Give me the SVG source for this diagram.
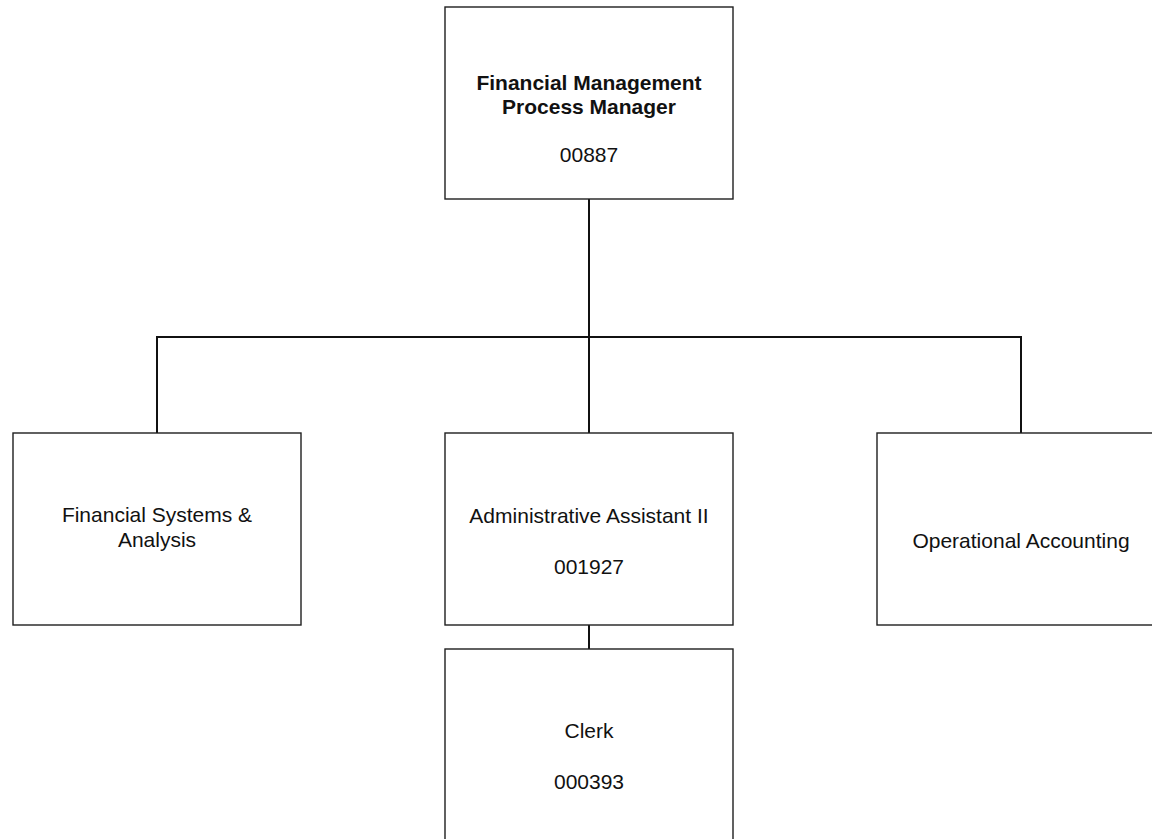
<svg xmlns="http://www.w3.org/2000/svg" width="1152" height="839" viewBox="0 0 1152 839">
  <style>
    .box { fill: #ffffff; stroke: #1f1f1f; stroke-width: 1.4; }
    .link { fill: none; stroke: #111111; stroke-width: 2; }
    text { font-family: "Liberation Sans", Arial, sans-serif; font-size: 21px; fill: #111111; text-anchor: middle; }
    .title { font-weight: bold; }
  </style>
  <rect width="1152" height="839" fill="#ffffff"/>

  <g id="connectors">
    <path class="link" d="M589 199 V337"/>
    <path class="link" d="M157 433 V337 H1021 V433"/>
    <path class="link" d="M589 337 V433"/>
    <path class="link" d="M589 625 V649"/>
  </g>

  <g id="node-manager">
    <rect class="box" x="445" y="7" width="288" height="192"/>
    <text class="title" x="589" y="90">Financial Management</text>
    <text class="title" x="589" y="114">Process Manager</text>
    <text x="589" y="162">00887</text>
  </g>

  <g id="node-systems">
    <rect class="box" x="13" y="433" width="288" height="192"/>
    <text x="157" y="522">Financial Systems &amp;</text>
    <text x="157" y="547">Analysis</text>
  </g>

  <g id="node-admin">
    <rect class="box" x="445" y="433" width="288" height="192"/>
    <text x="589" y="523">Administrative Assistant II</text>
    <text x="589" y="574">001927</text>
  </g>

  <g id="node-accounting">
    <rect class="box" x="877" y="433" width="288" height="192"/>
    <text x="1021" y="548">Operational Accounting</text>
  </g>

  <g id="node-clerk">
    <rect class="box" x="445" y="649" width="288" height="200"/>
    <text x="589" y="738">Clerk</text>
    <text x="589" y="789">000393</text>
  </g>
</svg>
